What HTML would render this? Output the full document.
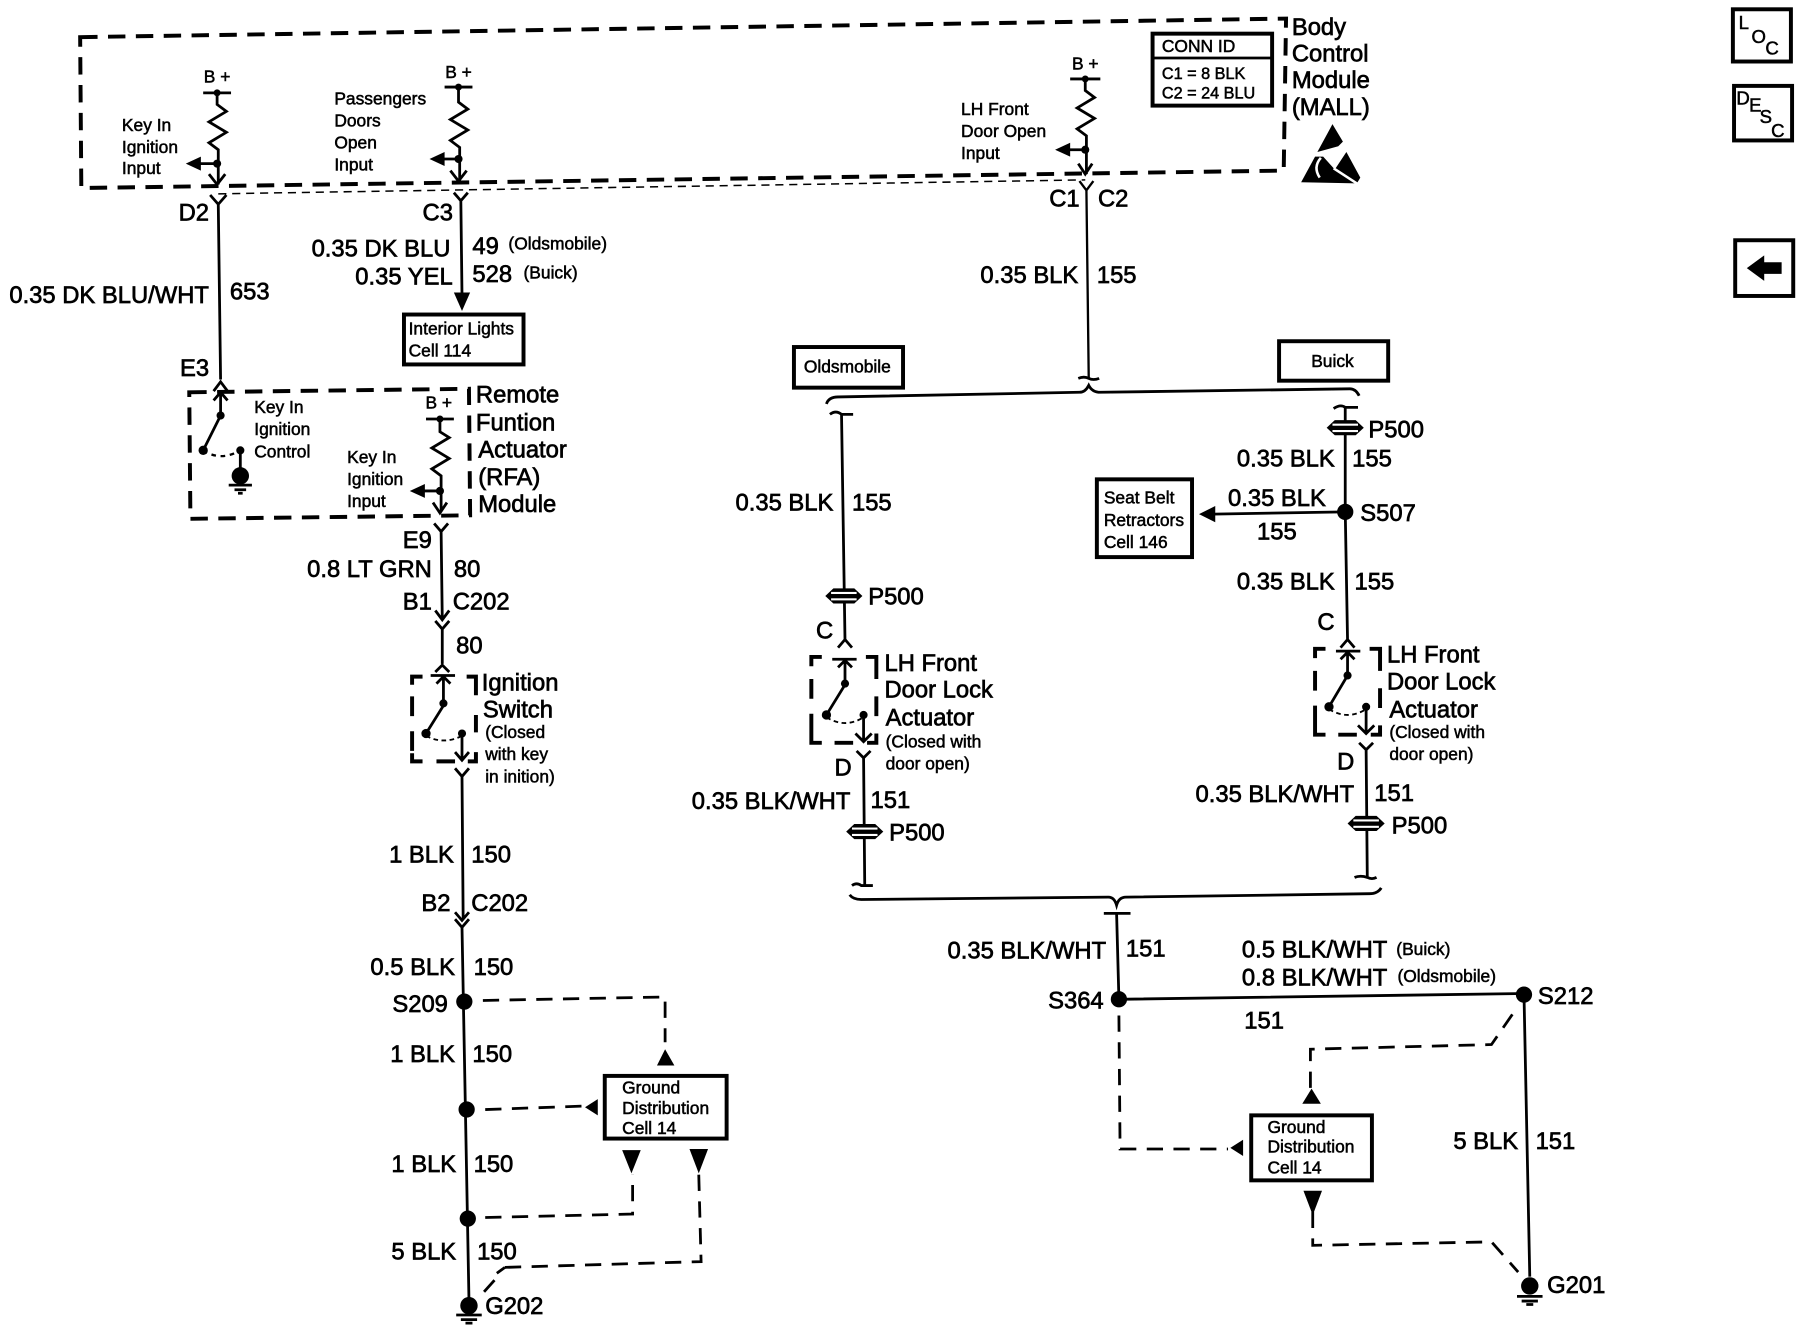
<!DOCTYPE html>
<html><head><meta charset="utf-8"><style>
html,body{margin:0;padding:0;background:#fff}
svg{display:block}
text{font-family:"Liberation Sans",sans-serif;fill:#000;stroke:#000;stroke-width:.6}
.t{font-size:20.5px}
.s{font-size:15px;stroke-width:.45}
.e{text-anchor:end}
.m{text-anchor:middle}
.w{fill:none;stroke:#000;stroke-width:2.4}
.d{fill:none;stroke:#000;stroke-width:3.4;stroke-dasharray:15 9}
.g{fill:none;stroke:#000;stroke-width:2.4;stroke-dasharray:14 9}
.b{fill:#fff;stroke:#000;stroke-width:3.4}
.sl{fill:#fff}
</style></head><body>
<svg xmlns="http://www.w3.org/2000/svg" width="1820" height="1344" viewBox="0 0 1568 1158">
<rect width="1568" height="1158" fill="#fff"/>

<!-- BCM box -->
<path class="d" d="M69,32 L1108,16 L1106,147 L70,162 Z"/>
<path d="M188,167 L935,155" fill="none" stroke="#000" stroke-width="1.3" stroke-dasharray="7 5"/>

<!-- B+ 1 -->
<text class="s m" x="187" y="71">B +</text>
<path class="w" d="M175,80 H199 M187,80 V90 l8,6 l-15,9 l15,9 l-15,9 l8,6 V159 M180,150 l7,9 l7,-9 M187,141 H172"/>
<circle cx="187" cy="80" r="3"/><circle cx="187" cy="141" r="3.5"/>
<path d="M160,141 L173,135 V147 Z"/>
<path class="w" d="M181,168 l7,8 l7,-8 M188,176 L190,327 M184,337 l6,-8 l6,8"/>
<text class="s" x="105" y="113">Key In</text><text class="s" x="105" y="132">Ignition</text><text class="s" x="105" y="150">Input</text>

<!-- B+ 2 -->
<text class="s m" x="395" y="67">B +</text>
<path class="w" d="M383,75 H407 M395,75 V88 l8,6 l-15,9 l15,9 l-15,9 l8,6 V156 M388,147 l7,9 l7,-9 M395,137 H381"/>
<circle cx="395" cy="75" r="3"/><circle cx="395" cy="137" r="3.5"/>
<path d="M370,137 L383,131 V143 Z"/>
<text class="s" x="288" y="90">Passengers</text><text class="s" x="288" y="109">Doors</text><text class="s" x="288" y="128">Open</text><text class="s" x="288" y="147">Input</text>
<path class="w" d="M391,166 l6,7 l6,-7 M397,173 L398,254"/>
<path d="M391,252 H405 L398,268 Z"/>

<!-- B+ 3 -->
<text class="s m" x="935" y="60">B +</text>
<path class="w" d="M922,68 H948 M935,68 V78 l8,6 l-15,9 l15,9 l-15,9 l8,6 V150 M929,141 l6,9 l6,-9 M935,129 H921"/>
<circle cx="935" cy="68" r="3"/><circle cx="935" cy="129" r="3.5"/>
<path d="M909,129 L922,123 V135 Z"/>
<text class="s" x="828" y="99">LH Front</text><text class="s" x="828" y="118">Door Open</text><text class="s" x="828" y="137">Input</text>

<!-- CONN ID -->
<rect class="b" x="993" y="29" width="103" height="62"/>
<path class="w" d="M993,50 H1096"/>
<text class="s" x="1001" y="45">CONN ID</text>
<text class="s" x="1001" y="68" style="font-size:14px">C1 = 8 BLK</text>
<text class="s" x="1001" y="85" style="font-size:14px">C2 = 24 BLU</text>

<text class="t" x="1113" y="30">Body</text><text class="t" x="1113" y="53">Control</text><text class="t" x="1113" y="76">Module</text><text class="t" x="1113" y="99">(MALL)</text>

<!-- ESD -->
<path d="M1148,107 L1157,122 L1153,126 L1135,131 Z"/>
<path d="M1121,157 L1133,135 L1140,135 L1150,146 L1160,131 L1172,153 L1169,158 Z"/>
<path d="M1149,145 L1172,160 M1138,136 Q1131,144 1137,153" fill="none" stroke="#fff" stroke-width="2.2"/>

<!-- Nav boxes -->
<rect class="b" x="1493" y="8" width="50" height="45"/>
<text class="s" x="1498" y="25" style="font-size:16px">L</text><text class="s" x="1509" y="37" style="font-size:16px">O</text><text class="s" x="1521" y="47" style="font-size:16px">C</text>
<rect class="b" x="1494" y="74" width="50" height="47"/>
<text class="s" x="1496" y="90" style="font-size:16px">D</text><text class="s" x="1507" y="96" style="font-size:16px">E</text><text class="s" x="1516" y="106" style="font-size:16px">S</text><text class="s" x="1526" y="118" style="font-size:16px">C</text>
<rect class="b" x="1495" y="207" width="50" height="48"/>
<path d="M1505,231 L1520,220 V226 H1535 V236 H1520 V242 Z"/>

<!-- Left wires text -->
<text class="t e" x="180" y="190">D2</text>
<text class="t" x="8" y="261">0.35 DK BLU/WHT</text>
<text class="t" x="198" y="258">653</text>
<text class="t" x="364" y="190">C3</text>
<text class="t e" x="388" y="221">0.35 DK BLU</text>
<text class="t" x="407" y="219">49</text>
<text class="s" x="438" y="215">(Oldsmobile)</text>
<text class="t e" x="390" y="245">0.35 YEL</text>
<text class="t" x="407" y="243">528</text>
<text class="s" x="451" y="240">(Buick)</text>
<rect class="b" x="348" y="271" width="103" height="43"/>
<text class="s" x="352" y="288">Interior Lights</text><text class="s" x="352" y="307">Cell 114</text>
<text class="t" x="155" y="324">E3</text>

<!-- RFA -->
<path class="d" d="M163,338 L404,335 L405,444 L164,447 Z"/>
<text class="t" x="410" y="347">Remote</text><text class="t" x="410" y="371">Funtion</text><text class="t" x="412" y="394">Actuator</text><text class="t" x="412" y="418">(RFA)</text><text class="t" x="412" y="441">Module</text>
<path class="w" d="M184,345 l6,-7 l6,7 M190,338 V358 L175,388 M207,388 V408"/>
<path d="M175,388 Q190,398 207,388" fill="none" stroke="#000" stroke-width="2" stroke-dasharray="4 4"/>
<circle cx="190" cy="358" r="3.5"/><circle cx="175" cy="388" r="4"/><circle cx="207" cy="388" r="3.5"/>
<circle cx="207" cy="410" r="7.5"/>
<path class="w" d="M197,418 H217 M202,422 H212 M205,425 H209"/>
<text class="s" x="219" y="356">Key In</text><text class="s" x="219" y="375">Ignition</text><text class="s" x="219" y="394">Control</text>
<text class="s m" x="378" y="352">B +</text>
<path class="w" d="M367,361 H391 M379,361 V372 l8,5 l-15,9 l15,9 l-15,9 l8,6 V441 M373,433 l6,9 l6,-9 M379,423 H365"/>
<circle cx="379" cy="361" r="3"/><circle cx="379" cy="423" r="3.5"/>
<path d="M353,423 L366,417 V429 Z"/>
<text class="s" x="299" y="399">Key In</text><text class="s" x="299" y="418">Ignition</text><text class="s" x="299" y="437">Input</text>
<path class="w" d="M374,451 l6,7 l6,-7 M380,458 L381,533 M375,526 l6,8 l6,-8"/>
<path class="w" d="M375,535 l6,7 l6,-7 M381,542 V572 M375,579 l6,-6 l6,6"/>
<text class="t e" x="372" y="472">E9</text>
<text class="t e" x="372" y="497">0.8 LT GRN</text>
<text class="t" x="391" y="497">80</text>
<text class="t e" x="372" y="525">B1</text>
<text class="t" x="390" y="525">C202</text>
<text class="t" x="393" y="563">80</text>

<!-- Ignition switch -->
<path fill="none" stroke="#000" stroke-width="3.4" d="M364,583 H355 V590 M355,600 V617 M355,630 V647 M355,649 V656 H364 M376,656 H392 M403,656 H410 V648 M410,631 V616 M410,599 V583 H402"/>
<path class="w" d="M371,582 H392 M376,589 l6,-6 l6,6 M382,583 V608 L367,632 M398,632 V655 M392,648 l6,7 l6,-7"/>
<path d="M367,634 Q382,642 398,634" fill="none" stroke="#000" stroke-width="1.6" stroke-dasharray="4 3"/>
<circle cx="382" cy="606" r="3.5"/><circle cx="367" cy="632" r="4"/><circle cx="398" cy="632" r="3.5"/>
<text class="t" x="415" y="595">Ignition</text><text class="t" x="416" y="618">Switch</text>
<text class="s" x="418" y="636">(Closed</text><text class="s" x="418" y="655">with key</text><text class="s" x="418" y="674">in inition)</text>

<!-- Left main wire -->
<path class="w" d="M392,662 l6,7 l6,-7 M398,669 L399,792 M392,786 l6,7 l6,-7 M392,792 l6,7 l6,-7 M398,799 L404,1120"/>
<text class="t e" x="391" y="743">1 BLK</text><text class="t" x="406" y="743">150</text>
<text class="t" x="363" y="785">B2</text><text class="t" x="406" y="785">C202</text>
<text class="t e" x="392" y="840">0.5 BLK</text><text class="t" x="408" y="840">150</text>
<text class="t" x="338" y="872">S209</text>
<circle cx="400" cy="863" r="7"/>
<text class="t e" x="392" y="915">1 BLK</text><text class="t" x="407" y="915">150</text>
<circle cx="402" cy="956" r="7"/>
<text class="t e" x="393" y="1010">1 BLK</text><text class="t" x="408" y="1010">150</text>
<circle cx="403" cy="1050" r="7"/>
<text class="t e" x="393" y="1085">5 BLK</text><text class="t" x="411" y="1085">150</text>
<circle cx="404" cy="1125" r="7.5"/>
<path class="w" d="M393,1133 H415 M397,1137 H411 M401,1140 H407"/>
<text class="t" x="418" y="1132">G202</text>

<!-- Left dashed -->
<path class="g" d="M416,862 L573,859 V898"/>
<path d="M573,904 L581,918 H566 Z"/>
<path class="g" d="M418,956 L503,953"/>
<path d="M504,954 L515,947 V961 Z"/>
<path class="g" d="M418,1049 L545,1046 V1012"/>
<path d="M536,991 H552 L544,1011 Z"/>
<path class="g" d="M435,1092 L604,1087 L602,1012"/>
<path d="M594,990 H610 L602,1011 Z"/>
<path class="w" d="M428,1097 L435,1092 M426,1103 L417,1113"/>
<rect class="b" x="521" y="927" width="105" height="54"/>
<text class="s" x="536" y="942">Ground</text><text class="s" x="536" y="960">Distribution</text><text class="s" x="536" y="977">Cell 14</text>

<!-- Center -->
<text class="t" x="904" y="178">C1</text><text class="t" x="946" y="178">C2</text>
<path d="M930,156 l6,8 l6,-8 M936,164 L938,326" fill="none" stroke="#000" stroke-width="2"/>
<path class="w" d="M929,326 Q934,324 938,326 Q942,328 947,326"/>
<text class="t e" x="929" y="244">0.35 BLK</text><text class="t" x="945" y="244">155</text>
<rect class="b" x="684" y="299" width="94" height="35"/>
<text class="s m" x="730" y="321">Oldsmobile</text>
<rect class="b" x="1102" y="294" width="94" height="34"/>
<text class="s m" x="1148" y="316">Buick</text>
<path class="w" d="M712,348 Q714,342 722,342 L930,338 Q935,338 938,332 Q941,338 948,338 L1163,335 Q1168,335 1171,341"/>

<!-- Left branch -->
<path class="w" d="M715,357 Q720,353 725,357 H735 M725,357 L728,552 M722,558 l6,-7 l6,7"/>
<text class="t e" x="718" y="440">0.35 BLK</text><text class="t" x="734" y="440">155</text>
<path d="M711,513.500 L718,507 H736 L743,513.500 L736,520 H718 Z"/>
<rect class="sl" x="716" y="510" width="22" height="1.800"/><rect class="sl" x="716" y="515.500" width="22" height="1.800"/>
<text class="t" x="748" y="521">P500</text>
<text class="t" x="703" y="550">C</text>
<path fill="none" stroke="#000" stroke-width="3.4" d="M708,566 H699 V574 M699,585 V602 M699,615 V632 V640 H708 M719,640 H735 M747,640 H755 V632 M755,617 V600 M755,585 V566 H746"/>
<path class="w" d="M717,568 H738 M722,575 l6,-6 l6,6 M728,569 V590 L712,616 M744,616 V639 M737,632 l7,7 l7,-7"/>
<path d="M712,618 Q728,628 744,618" fill="none" stroke="#000" stroke-width="1.6" stroke-dasharray="4 3"/>
<circle cx="728" cy="589" r="3.5"/><circle cx="712" cy="616" r="4"/><circle cx="744" cy="616" r="3.5"/>
<text class="t" x="762" y="578">LH Front</text><text class="t" x="762" y="601">Door Lock</text><text class="t" x="763" y="625">Actuator</text>
<text class="s" x="763" y="644">(Closed with</text><text class="s" x="763" y="663">door open)</text>
<text class="t" x="719" y="668">D</text>
<path class="w" d="M738,647 l6,6 l6,-6 M744,653 L745,763 M734,763 Q738,760 742,763 H752"/>
<text class="t" x="596" y="697">0.35 BLK/WHT</text><text class="t" x="750" y="696">151</text>
<path d="M729,716.500 L736,710 H754 L761,716.500 L754,723 H736 Z"/>
<rect class="sl" x="734" y="713" width="22" height="1.800"/><rect class="sl" x="734" y="718.500" width="22" height="1.800"/>
<text class="t" x="766" y="724">P500</text>

<!-- Right branch -->
<path class="w" d="M1149,352 Q1155,348 1159,351 H1170 M1159,351 V440 L1161,552 M1155,558 l6,-7 l6,7"/>
<path d="M1143,368.500 L1150,362 H1168 L1175,368.500 L1168,375 H1150 Z"/>
<rect class="sl" x="1148" y="365" width="22" height="1.800"/><rect class="sl" x="1148" y="370.500" width="22" height="1.800"/>
<text class="t" x="1179" y="377">P500</text>
<text class="t e" x="1150" y="402">0.35 BLK</text><text class="t" x="1165" y="402">155</text>
<circle cx="1159" cy="441" r="7"/>
<text class="t" x="1172" y="449">S507</text>
<path class="w" d="M1159,441 L1045,443"/>
<path d="M1033,443 L1047,436 V450 Z"/>
<text class="t" x="1058" y="436">0.35 BLK</text><text class="t" x="1083" y="465">155</text>
<rect class="b" x="945" y="413" width="82" height="67"/>
<text class="s" x="951" y="434">Seat Belt</text><text class="s" x="951" y="453">Retractors</text><text class="s" x="951" y="472">Cell 146</text>
<text class="t e" x="1150" y="508">0.35 BLK</text><text class="t" x="1167" y="508">155</text>
<text class="t" x="1135" y="543">C</text>
<path fill="none" stroke="#000" stroke-width="3.4" d="M1142,559 H1133 V567 M1133,578 V595 M1133,608 V625 V633 H1142 M1153,633 H1169 M1181,633 H1189 V625 M1189,610 V593 M1189,578 V559 H1180"/>
<path class="w" d="M1151,561 H1172 M1155,568 l6,-6 l6,6 M1161,562 V582 L1145,609 M1177,609 V632 M1170,625 l7,7 l7,-7"/>
<path d="M1145,611 Q1161,621 1177,611" fill="none" stroke="#000" stroke-width="1.6" stroke-dasharray="4 3"/>
<circle cx="1161" cy="582" r="3.5"/><circle cx="1145" cy="609" r="4"/><circle cx="1177" cy="609" r="3.5"/>
<text class="t" x="1195" y="571">LH Front</text><text class="t" x="1195" y="594">Door Lock</text><text class="t" x="1197" y="618">Actuator</text>
<text class="s" x="1197" y="636">(Closed with</text><text class="s" x="1197" y="655">door open)</text>
<text class="t" x="1152" y="663">D</text>
<path class="w" d="M1171,640 l6,6 l6,-6 M1177,646 L1178,756 M1167,756 Q1172,754 1178,756 Q1182,758 1186,756"/>
<text class="t" x="1030" y="691">0.35 BLK/WHT</text><text class="t" x="1184" y="690">151</text>
<path d="M1161,709.500 L1168,703 H1186 L1193,709.500 L1186,716 H1168 Z"/>
<rect class="sl" x="1166" y="706" width="22" height="1.800"/><rect class="sl" x="1166" y="711.500" width="22" height="1.800"/>
<text class="t" x="1199" y="718">P500</text>

<!-- Bottom bracket and right network -->
<path class="w" d="M732,771 Q735,775 742,775 L955,773 Q960,773 962,780 Q964,773 970,773 L1180,770 Q1187,770 1190,765"/>
<path class="w" d="M951,787 H974 M962,787 L964,861 L1313,856 L1318,1100"/>
<text class="t e" x="953" y="826">0.35 BLK/WHT</text><text class="t" x="970" y="824">151</text>
<circle cx="964" cy="861" r="7"/><circle cx="1313" cy="857" r="7"/>
<text class="t" x="903" y="869">S364</text><text class="t" x="1325" y="865">S212</text>
<text class="t" x="1070" y="825">0.5 BLK/WHT</text><text class="s" x="1203" y="823">(Buick)</text>
<text class="t" x="1070" y="849">0.8 BLK/WHT</text><text class="s" x="1204" y="846">(Oldsmobile)</text>
<text class="t" x="1072" y="886">151</text>
<text class="t e" x="1308" y="990">5 BLK</text><text class="t" x="1323" y="990">151</text>
<circle cx="1318" cy="1108" r="7.5"/>
<path class="w" d="M1307,1117 H1329 M1311,1121 H1325 M1315,1124 H1321"/>
<text class="t" x="1333" y="1114">G201</text>
<path class="g" d="M964,875 L965,990 H1058"/>
<path d="M1060,989 L1071,982 V996 Z"/>
<rect class="b" x="1078" y="961" width="104" height="56"/>
<text class="s" x="1092" y="976">Ground</text><text class="s" x="1092" y="993">Distribution</text><text class="s" x="1092" y="1011">Cell 14</text>
<path class="g" d="M1303,874 L1285,900 L1129,904 V938"/>
<path d="M1130,938 L1138,951 H1122 Z"/>
<path d="M1123,1026 H1139 L1131,1047 Z"/>
<path class="g" d="M1131,1044 V1073 L1285,1070 L1308,1096"/>
</svg>
</body></html>
